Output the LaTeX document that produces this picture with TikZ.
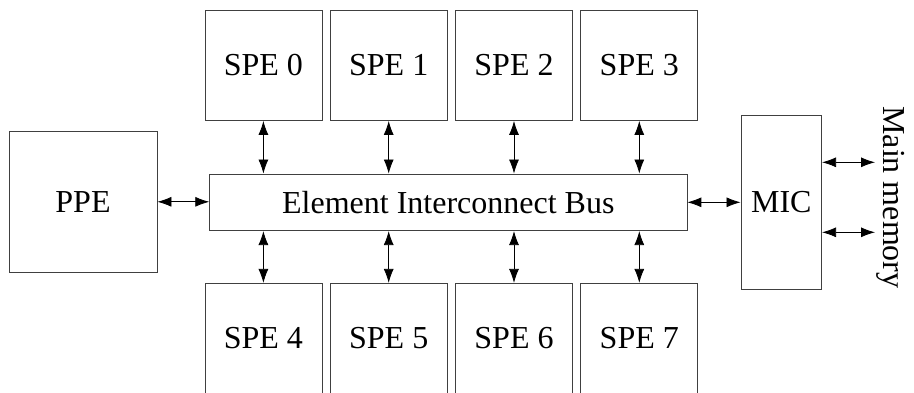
\documentclass[tikz,border=0pt]{standalone}
\usepackage{fontspec}
\setmainfont{Liberation Serif}
\usetikzlibrary{arrows.meta}
\begin{document}
\begin{tikzpicture}[x=1pt,y=-1pt,
  blk/.style={draw=black!75, line width=0.8pt, inner sep=0pt, font=\fontsize{32}{38}\selectfont},
  spe/.style={blk, minimum width=117pt, minimum height=110.5pt},
  arr/.style={{Latex[length=14pt,width=10pt]}-{Latex[length=14pt,width=10pt]}, line width=0.8pt}]
\useasboundingbox (0,0) rectangle (914,392);
\foreach \i in {0,1,2,3}{
  \node[spe] (t\i) at (263.4+125.3*\i,65.25) {SPE \i};
}
\foreach \i/\n in {0/4,1/5,2/6,3/7}{
  \node[spe] (b\i) at (263.4+125.3*\i,338.55) {SPE \n};
}
\node[blk, minimum width=477.3pt, minimum height=56.7pt] (bus) at (448.3,202.3) {Element Interconnect Bus};
\node[blk, minimum width=148pt, minimum height=140.3pt] (ppe) at (83,201.8) {PPE};
\node[blk, minimum width=80.7pt, minimum height=174.3pt] (mic) at (781.3,202.2) {MIC};
\node[font=\fontsize{32}{38}\selectfont, rotate=-90, inner sep=0pt] (mem) at (891,197.5) {Main memory};
\coordinate (m1) at (875,162.3);
\coordinate (m2) at (875,232.3);
\foreach \i in {0,1,2,3}{
  \draw[arr] (t\i.south) -- (t\i.south |- bus.north);
  \draw[arr] (b\i.north) -- (b\i.north |- bus.south);
}
\draw[arr] (ppe.east) -- (ppe.east -| bus.west);
\draw[arr] (bus.east) -- (bus.east -| mic.west);
\draw[arr] (m1 -| mic.east) -- (m1);
\draw[arr] (m2 -| mic.east) -- (m2);
\end{tikzpicture}
\end{document}
